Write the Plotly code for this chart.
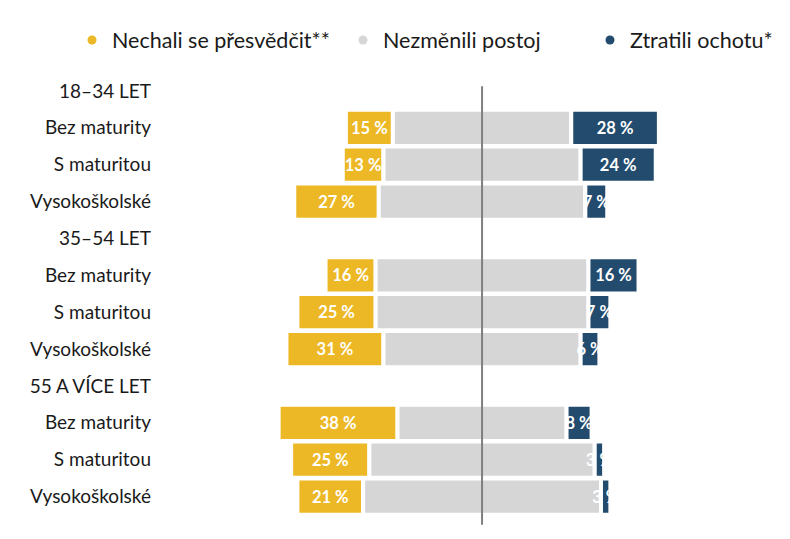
import plotly.graph_objects as go

# age groups and education levels (rows of the chart)
groups = ["18–34 LET", "35–54 LET", "55 A VÍCE LET"]
levels = ["Bez maturity", "S maturitou", "Vysokoškolské"]

# shares in %, order: group by group, level by level
persuaded = [15, 13, 27, 16, 25, 31, 38, 25, 21]   # Nechali se přesvědčit**
unchanged = [57, 63, 66, 68, 68, 63, 54, 72, 76]   # Nezměnili postoj
lost = [28, 24, 7, 16, 7, 6, 8, 3, 3]              # Ztratili ochotu*

names = ["Nechali se přesvědčit**", "Nezměnili postoj", "Ztratili ochotu*"]
colors = ["#EDB825", "#D6D6D6", "#234B6E"]

# row labels incl. group headers, bars only on the level rows
labels = []
bar_rows = []
for g in groups:
    labels.append(g)
    for lv in levels:
        bar_rows.append(len(labels))
        labels.append(lv)

half = [u / 2 for u in unchanged]

fig = go.Figure()

common = dict(orientation='h', y=bar_rows, width=0.98, showlegend=False,
              hoverinfo='skip')
bar_text = dict(texttemplate="%{x} %", textposition='inside', textangle=0,
                insidetextanchor='middle',
                textfont=dict(color='white', size=16.5, family="Lato", weight='bold'))

fig.add_trace(go.Bar(x=persuaded, base=[-h - p for h, p in zip(half, persuaded)],
                     marker=dict(color=colors[0], line=dict(color='white', width=4)),
                     **bar_text, **common))

fig.add_trace(go.Bar(x=unchanged, base=[-h for h in half],
                     marker=dict(color=colors[1], line=dict(color='white', width=4)),
                     **common))

fig.add_trace(go.Bar(x=lost, base=half,
                     marker=dict(color=colors[2], line=dict(color='white', width=4)),
                     **bar_text, **common))

# legend entries (round markers), each in its own legend box
legend_x = [64 / 790, 335 / 790, 582 / 790]
for i, (n, c) in enumerate(zip(names, colors)):
    fig.add_trace(go.Scatter(x=[None], y=[None], mode='markers', name=n,
                             marker=dict(color=c, size=9, symbol='circle'),
                             legend='legend' if i == 0 else f'legend{i + 1}'))

leg = dict(orientation='h', xref='container', yref='container',
           y=1 - 32 / 539, yanchor='middle', xanchor='left',
           font=dict(size=21.5, color='#1a1a1a', family="Lato"),
           bgcolor='rgba(0,0,0,0)')

fig.update_layout(
    width=790, height=539,
    barmode='overlay',
    plot_bgcolor='white', paper_bgcolor='white',
    margin=dict(l=152, r=18, t=54, b=32),
    font=dict(family="Lato", size=19, color='#1a1a1a'),
    uniformtext=dict(minsize=16.5, mode='show'),
    legend=dict(x=legend_x[0], **leg),
    legend2=dict(x=legend_x[1], **leg),
    legend3=dict(x=legend_x[2], **leg),
)

fig.update_xaxes(range=[-102.9, 95.2], showticklabels=False, showgrid=False,
                 zeroline=False, fixedrange=True)
fig.update_yaxes(tickvals=list(range(len(labels))), ticktext=labels,
                 range=[len(labels) - 0.5, -0.5], showgrid=False,
                 zeroline=False, ticks='', ticklabelstandoff=8)

# center divider line
fig.add_shape(type='line', x0=0, x1=0, xref='x', yref='paper',
              y0=-0.022, y1=0.969, line=dict(color='#7F7F7F', width=2),
              layer='above')

fig.write_html("out.html")
